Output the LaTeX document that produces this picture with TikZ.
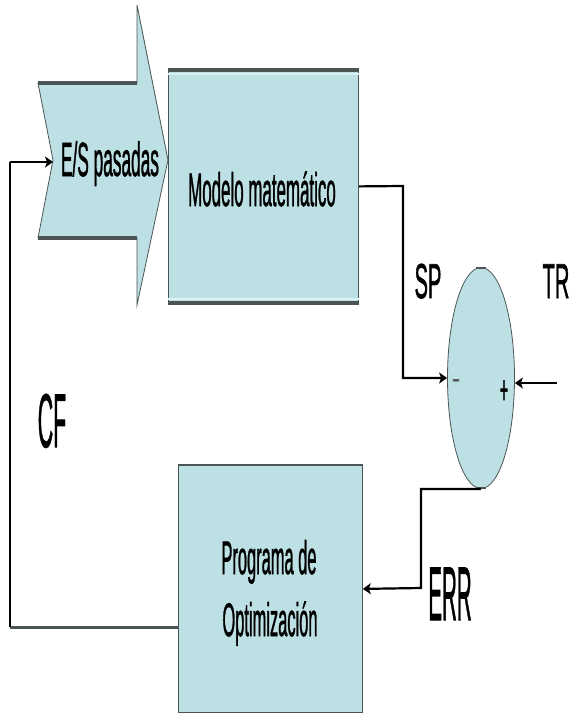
\documentclass[tikz,border=0pt]{standalone}
\usepackage{fontspec}
\setmainfont{Liberation Sans}
\newfontfamily\lblfont{Liberation Sans}[FakeBold=1.6]
\usetikzlibrary{shapes.geometric,arrows.meta}
\definecolor{boxfill}{RGB}{188,224,228}
\definecolor{boxlight}{RGB}{218,242,244}
\definecolor{edgegray}{RGB}{75,85,85}
\newcommand{\cnd}[3]{\lblfont\fontsize{#2}{#2}\selectfont\scalebox{#1}[1]{#3}}
\begin{document}
\begin{tikzpicture}[x=1pt,y=-1pt,line join=miter,
  lbl/.style={inner sep=0pt,anchor=base},
  shapebox/.style={draw=edgegray,fill=boxfill,line width=0.8pt,inner sep=0pt,anchor=north west},
  conn/.style={draw=black,line width=2.2pt},
  tipa/.style={-{Stealth[length=8pt,width=11pt,inset=2pt]}},
  heavyedge/.style={draw=edgegray,line width=3.5pt},
  lightedge/.style={draw=boxlight,line width=2pt}]
\useasboundingbox (0,0) rectangle (570,713);
% chevron
\draw[fill=boxfill,draw=edgegray,line width=0.8pt]
  (38,83) -- (137,83) -- (137,5) -- (168,160) -- (137,305) -- (137,238) -- (38,238) -- (53,160) -- cycle;
\draw[heavyedge] (38,83) -- (137,83);
\draw[heavyedge] (38,238) -- (137,238);
\coordinate (notch) at (53,162);
% model box
\node[shapebox,minimum width=190pt,minimum height=232pt] (modelo) at (168,70) {};
\draw[heavyedge] (modelo.north west) -- (modelo.north east);
\draw[heavyedge] (modelo.south west) -- (modelo.south east);
\draw[lightedge] ([yshift=-3.5pt]modelo.north west) -- ([yshift=-3.5pt]modelo.north east);
\draw[lightedge] ([yshift=3.5pt]modelo.south west) -- ([yshift=3.5pt]modelo.south east);
% optimisation box
\node[shapebox,minimum width=184pt,minimum height=247pt] (prog) at (178,465) {};
\draw[draw=edgegray,line width=2pt] (prog.north west) -- (prog.north east);
% summing ellipse
\node[ellipse,draw=edgegray,fill=boxfill,line width=0.8pt,minimum width=67pt,minimum height=221pt,inner sep=0pt] (sum) at (481,378) {};
\draw[draw=edgegray,line width=2pt] ([xshift=-5pt,yshift=-1pt]sum.north) -- ([xshift=5pt,yshift=-1pt]sum.north);
\draw[draw=edgegray,line width=2pt] ([xshift=-5pt,yshift=1pt]sum.south) -- ([xshift=5pt,yshift=1pt]sum.south);
% texts
\node[lbl] (estxt) at (110,176) {\cnd{0.36}{48}{E/S pasadas}};
\node[lbl] (modtxt) at (262,206) {\cnd{0.36}{47}{Modelo matemático}};
\node[lbl] (progtxt1) at (269,574) {\cnd{0.35}{47}{Programa de}};
\node[lbl] (progtxt2) at (270,636) {\cnd{0.35}{47}{Optimización}};
\node[lbl] (sp) at (428,298) {\cnd{0.41}{49}{SP}};
\node[lbl] (tr) at (556,298) {\cnd{0.41}{49}{TR}};
\node[lbl] (cf) at (52,447) {\cnd{0.28}{76}{CF}};
\node[lbl] (err) at (450,620) {\cnd{0.27}{76}{ERR}};
\node[inner sep=0pt,text=edgegray] (minus) at (456,383) {\cnd{1}{24}{-}};
\node[inner sep=0pt] (plus) at (504,392) {\cnd{0.35}{40}{+}};
% connectors
\coordinate (c0) at (403,186);
\draw[conn,tipa] (modelo.east) -- (c0) |- (sum.west);
\coordinate (trin) at (557,383);
\draw[conn,tipa] (trin) -- (trin -| sum.east);
\coordinate (c1) at (421,588);
\draw[conn,tipa] (sum.south) -| (c1) -- (prog.east);
\coordinate (fb) at (10,627);
\draw[draw=edgegray,line width=3pt] (prog.west |- fb) -- (fb);
\draw[draw=black,line width=1.1pt] (fb) -- (fb |- notch);
\draw[conn,tipa] (fb |- notch) -- (notch);
\end{tikzpicture}
\end{document}
